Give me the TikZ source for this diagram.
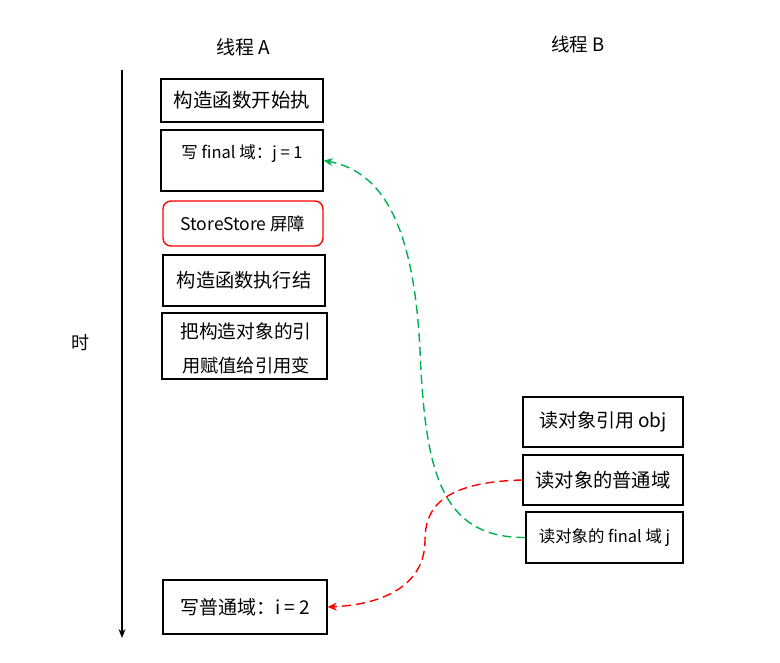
\documentclass[tikz,border=0pt]{standalone}
\usepackage{fontspec}
\setmainfont{Noto Sans CJK SC}
\usetikzlibrary{arrows.meta}
\definecolor{grn}{RGB}{0,176,80}
\definecolor{rd}{RGB}{255,0,0}
\newcommand{\fs}[1]{\fontsize{#1}{#1}\selectfont}
\begin{document}
\begin{tikzpicture}[x=1pt,y=-1pt,
  box/.style={draw=black, line width=1.4pt, inner sep=0pt, font=\fs{19}},
  lbl/.style={inner sep=0pt, font=\fs{19}},
  link/.style={line width=1.4pt, dash pattern=on 9pt off 5pt, -{Stealth[length=9pt,width=8pt]}},
  ]
\useasboundingbox (0,0) rectangle (780,663);
% headers
\node[lbl, font=\fs{19}] (ta) at (243,47) {线程 A};
\node[lbl, font=\fs{18.5}] (tb) at (578,44) {线程 B};
\node[lbl, font=\fs{18}] (shi) at (80,343) {时};
% time axis
\coordinate (t0) at (122,70);
\coordinate (t1) at (122,638);
\draw[line width=1.3pt, -{Stealth[length=9pt,width=7pt]}] (t0) -- (t1);
% thread A boxes
\node[box, minimum width=162pt, minimum height=43pt, font=\fs{19.5}] (b1) at (242,100.5) {构造函数开始执};
\node[box, minimum width=162pt, minimum height=61pt] (b2) at (242,160.5) {};
\node[lbl, font=\fs{16.5}] (b2t) at (242,154) {写 final 域：j = 1};
\node[box, draw=rd, rounded corners=8pt, minimum width=160pt, minimum height=45pt, font=\fs{17.5}] (b3) at (243,223.5) {StoreStore 屏障};
\node[box, minimum width=162pt, minimum height=51pt, font=\fs{19.2}] (b4) at (244,280.5) {构造函数执行结};
\node[box, minimum width=165pt, minimum height=66pt] (b5) at (244.5,346) {};
\node[lbl, font=\fs{18.7}] (b5a) at (246,331) {把构造对象的引};
\node[lbl, font=\fs{18.2}] (b5b) at (246,366) {用赋值给引用变};
\node[box, minimum width=164pt, minimum height=54pt] (d1) at (245,607) {写普通域：i = 2};
% thread B boxes
\node[box, minimum width=160pt, minimum height=50pt] (c1) at (603,422) {读对象引用 obj};
\node[box, minimum width=160pt, minimum height=50pt, font=\fs{19.3}] (c2) at (603,480) {读对象的普通域};
\node[box, minimum width=157pt, minimum height=51pt, font=\fs{16.4}] (c3) at (604.5,537.5) {读对象的 final 域 j};
% links
\draw[link, grn] (c3.west) .. controls (440,538) and (425,470) .. (420,350)
   .. controls (414,230) and (385,172) .. (b2.east);
\draw[link, rd] (c2.west) .. controls (440,482) and (425,510) .. (425,540)
   .. controls (425,590) and (375,605) .. (d1.east);
\end{tikzpicture}
\end{document}
